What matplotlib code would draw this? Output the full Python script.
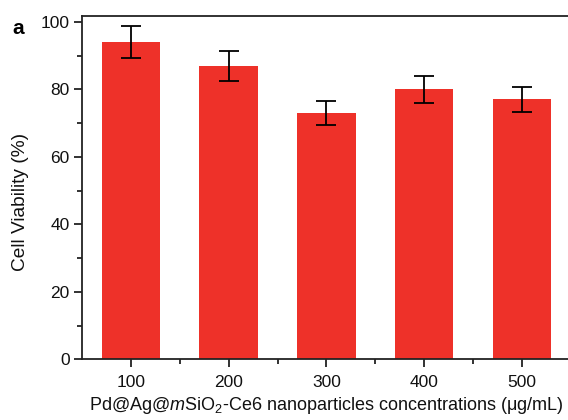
import numpy as np
import matplotlib
matplotlib.use("Agg")
import matplotlib.pyplot as plt
from matplotlib.ticker import MultipleLocator, FixedLocator

plt.rcParams['font.family'] = ['Liberation Sans', 'DejaVu Sans']
plt.rcParams['mathtext.fontset'] = 'custom'
plt.rcParams['mathtext.rm'] = 'Liberation Sans'
plt.rcParams['mathtext.it'] = 'Liberation Sans:italic'

# concentrations (ug/mL) and cell viability (%)
concentrations = ["100", "200", "300", "400", "500"]
viability = [94, 87, 73, 80, 77]
viability_err = [4.7, 4.4, 3.6, 4.0, 3.8]

bar_color = "#ee3129"

fig = plt.figure(figsize=(5.68, 4.20), dpi=100)
ax = fig.add_axes([0.1444, 0.1445, 0.8605, 0.818])

x = np.arange(1, len(concentrations) + 1)
ax.bar(x, viability, width=0.6, color=bar_color, zorder=2)
ax.errorbar(x, viability, yerr=viability_err, fmt="none", ecolor="black",
            elinewidth=1.3, capsize=7, capthick=1.3, zorder=3)

ax.set_xlim(0.5, 5.5)
ax.set_ylim(0, 101.8)
ax.set_xticks(x)
ax.set_xticklabels(concentrations)
ax.xaxis.set_minor_locator(FixedLocator(x[:-1] + 0.5))
ax.yaxis.set_major_locator(MultipleLocator(20))
ax.yaxis.set_minor_locator(MultipleLocator(10))

for s in ax.spines.values():
    s.set_linewidth(1.3)
    s.set_color("#222222")

ax.tick_params(which="major", direction="out", length=6, width=1.3,
               labelsize=12.5, colors="#222222", labelcolor="#111111")
ax.tick_params(which="minor", direction="out", length=3.5, width=1.3,
               colors="#222222")
ax.tick_params(axis="x", which="major", pad=5)
ax.tick_params(axis="y", which="major", pad=3)

ax.set_ylabel("Cell Viability (%)", fontsize=13.8, color="#111111")
ax.yaxis.set_label_coords(-0.108, 0.458)
ax.set_xlabel(r"Pd@Ag@$\mathit{m}$SiO$_2$-Ce6 nanoparticles concentrations (μg/mL)",
              fontsize=13, labelpad=4, color="#111111")

fig.text(0.021, 0.918, "a", fontsize=15, fontweight="bold")

fig.savefig("out.png", dpi=100)
